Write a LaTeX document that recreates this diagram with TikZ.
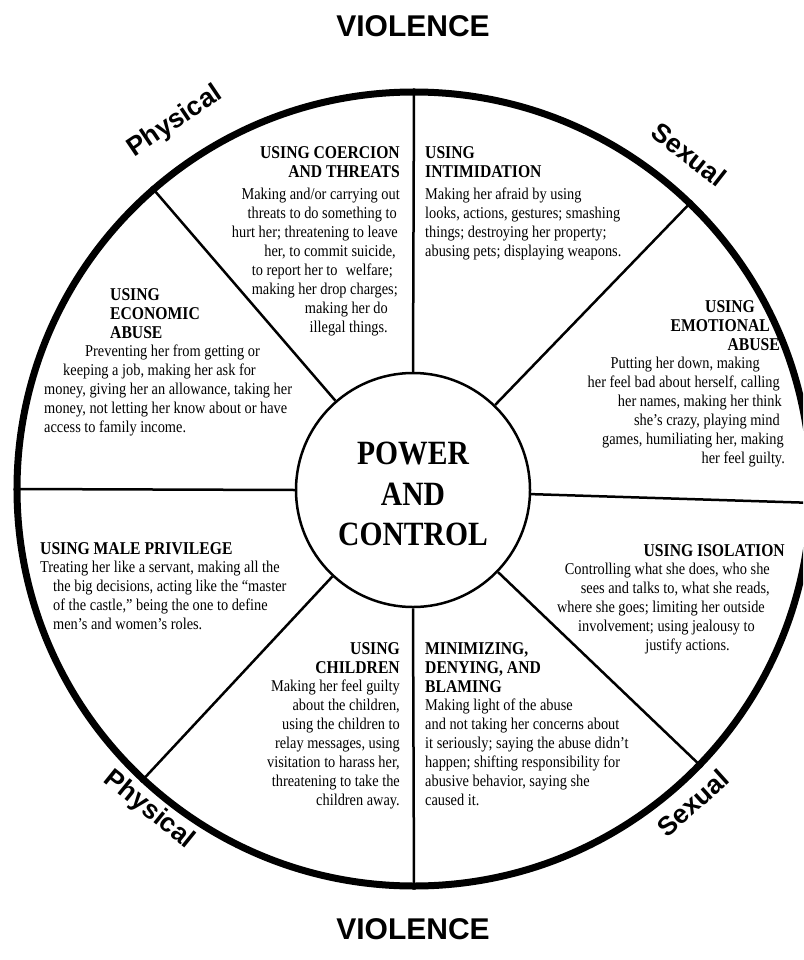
\documentclass[tikz,border=0pt]{standalone}
\usepackage{fontspec}
\setmainfont{Liberation Serif}[FakeStretch=0.87]
\newfontfamily\labfont{Liberation Sans}
\begin{document}
\begin{tikzpicture}[x=1pt,y=-1pt,
  bl/.style={anchor=base west,yshift=-5pt,inner sep=0pt,font=\fontsize{16.5}{19}\selectfont},
  br/.style={anchor=base east,yshift=-5pt,inner sep=0pt,font=\fontsize{16.5}{19}\selectfont},
  hl/.style={anchor=base west,yshift=-6pt,inner sep=0pt,font=\fontsize{18}{19}\selectfont\bfseries},
  hr/.style={anchor=base east,yshift=-6pt,inner sep=0pt,font=\fontsize{18}{19}\selectfont\bfseries},
  side/.style={inner sep=0pt,font=\labfont\bfseries\fontsize{26.5}{26.5}\selectfont},
  viol/.style={inner sep=0pt,font=\labfont\bfseries\fontsize{30}{30}\selectfont},
  spoke/.style={line width=2.5pt}]
\useasboundingbox (0,0) rectangle (803,960);
\clip (0,0) rectangle (803,960);
\fill[white] (0,0) rectangle (803,960);
% wheel
\node[circle,draw,line width=7pt,minimum size=794pt,inner sep=0pt] (rim) at (414,489) {};
\node[circle,draw,line width=2.5pt,minimum size=234pt,inner sep=0pt] (hub) at (413,490) {};
\node[align=center,inner sep=0pt,font=\fontsize{34}{40.5}\selectfont\bfseries] (pc) at (413,494) {POWER\\AND\\CONTROL};
\foreach \a in {90,46,358.3,316,270,227.5,180.4,131}
  \draw[spoke] (hub.\a) -- (rim.\a);
% titles
\node[viol] (v1) at (413,26) {VIOLENCE};
\node[viol] (v2) at (413,929) {VIOLENCE};
\node[side,rotate=34] (p1) at (175,122) {Physical};
\node[side,rotate=-38] (s1) at (689,154) {Sexual};
\node[side,rotate=-39] (p2) at (149,810) {Physical};
\node[side,rotate=42] (s2) at (693,803) {Sexual};
% coercion and threats
\node[hr] (co1) at (400,153) {USING COERCION};
\node[hr] (co2) at (400,172) {AND THREATS};
\node[br] (co3) at (400,194) {Making and/or carrying out};
\node[br] (co4) at (397,213) {threats to do something to};
\node[br] (co5) at (398,232) {hurt her; threatening to leave};
\node[br] (co6) at (396,251) {her, to commit suicide,};
\node[br] (co7) at (393,270) {to report her to\enspace welfare;};
\node[br] (co8) at (398,289) {making her drop charges;};
\node[br] (co9) at (388,308) {making her do};
\node[br] (co10) at (388,327) {illegal things.};
% intimidation
\node[hl] (in1) at (425,153) {USING};
\node[hl] (in2) at (425,172) {INTIMIDATION};
\node[bl] (in3) at (425,194) {Making her afraid by using};
\node[bl] (in4) at (425,213) {looks, actions, gestures; smashing};
\node[bl] (in5) at (425,232) {things; destroying her property;};
\node[bl] (in6) at (425,251) {abusing pets; displaying weapons.};
% economic abuse
\node[hl] (ec1) at (110,294) {USING};
\node[hl] (ec2) at (110,313) {ECONOMIC};
\node[hl] (ec3) at (110,332) {ABUSE};
\node[bl] (ec4) at (85,351) {Preventing her from getting or};
\node[bl] (ec5) at (63,370) {keeping a job, making her ask for};
\node[bl] (ec6) at (44,389) {money, giving her an allowance, taking her};
\node[bl] (ec7) at (44,408) {money, not letting her know about or have};
\node[bl] (ec8) at (44,427) {access to family income.};
% emotional abuse
\node[hr] (em1) at (755,306) {USING};
\node[hr] (em2) at (770,325) {EMOTIONAL};
\node[hr] (em3) at (780,344) {ABUSE};
\node[br] (em4) at (760,363) {Putting her down, making};
\node[br] (em5) at (780,382) {her feel bad about herself, calling};
\node[br] (em6) at (782,401) {her names, making her think};
\node[br] (em7) at (780,420) {she’s crazy, playing mind};
\node[br] (em8) at (784,439) {games, humiliating her, making};
\node[br] (em9) at (785,458) {her feel guilty.};
% male privilege
\node[hl] (ma1) at (40,548) {USING MALE PRIVILEGE};
\node[bl] (ma2) at (40,567) {Treating her like a servant, making all the};
\node[bl] (ma3) at (53,586) {the big decisions, acting like the “master};
\node[bl] (ma4) at (53,605) {of the castle,” being the one to define};
\node[bl] (ma5) at (53,624) {men’s and women’s roles.};
% isolation
\node[hr] (is1) at (785,550) {USING ISOLATION};
\node[br] (is2) at (770,569) {Controlling what she does, who she};
\node[br] (is3) at (770,588) {sees and talks to, what she reads,};
\node[br] (is4) at (765,607) {where she goes; limiting her outside};
\node[br] (is5) at (755,626) {involvement; using jealousy to};
\node[br] (is6) at (730,645) {justify actions.};
% children
\node[hr] (ch1) at (400,648) {USING};
\node[hr] (ch2) at (400,667) {CHILDREN};
\node[br] (ch3) at (400,686) {Making her feel guilty};
\node[br] (ch4) at (400,705) {about the children,};
\node[br] (ch5) at (400,724) {using the children to};
\node[br] (ch6) at (400,743) {relay messages, using};
\node[br] (ch7) at (400,762) {visitation to harass her,};
\node[br] (ch8) at (400,781) {threatening to take the};
\node[br] (ch9) at (400,800) {children away.};
% minimizing
\node[hl] (mi1) at (425,648) {MINIMIZING,};
\node[hl] (mi2) at (425,667) {DENYING, AND};
\node[hl] (mi3) at (425,686) {BLAMING};
\node[bl] (mi4) at (425,705) {Making light of the abuse};
\node[bl] (mi5) at (425,724) {and not taking her concerns about};
\node[bl] (mi6) at (425,743) {it seriously; saying the abuse didn’t};
\node[bl] (mi7) at (425,762) {happen; shifting responsibility for};
\node[bl] (mi8) at (425,781) {abusive behavior, saying she};
\node[bl] (mi9) at (425,800) {caused it.};
\end{tikzpicture}
\end{document}
